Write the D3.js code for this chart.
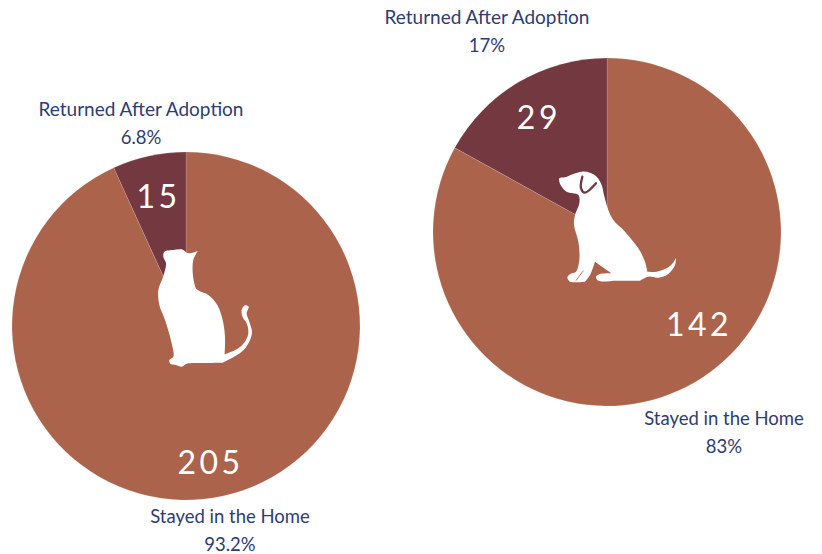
<!DOCTYPE html>
<html>
<head>
<meta charset="utf-8">
<script src="https://cdn.jsdelivr.net/npm/d3@7"></script>
<style>
html, body { margin: 0; padding: 0; background: #fff; }
svg { display: block; }
text { font-family: Lato, sans-serif; }
</style>
</head>
<body>
<div id="chart"></div>
<script>
var categories = ['Stayed in the Home', 'Returned After Adoption'];
var catValues = [205, 15];
var dogValues = [142, 29];
var catPercents = ['93.2%', '6.8%'];
var dogPercents = ['83%', '17%'];

var colors = ['#ab644b', '#733840'];
var textColor = '#2e3c70';

var outerWidth = 822;
var outerHeight = 554;
var radius = 174;

var svg = d3.select('#chart').append('svg')
    .attr('width', outerWidth)
    .attr('height', outerHeight);

var pie = d3.pie().sort(null);
var arc = d3.arc().innerRadius(0).outerRadius(radius);
var labelArc = d3.arc().innerRadius(134).outerRadius(134);

var drawPie = function (values, percents, conf) {
    var g = svg.append('g')
        .attr('transform', 'translate(' + conf.cx + ',' + conf.cy + ')');

    var slices = pie(values);

    g.selectAll('path.slice')
        .data(slices)
        .enter()
        .append('path')
        .attr('class', 'slice')
        .attr('d', arc)
        .attr('fill', function (d, i) { return colors[i]; })
        .attr('stroke', '#fff')
        .attr('stroke-opacity', 0.25)
        .attr('stroke-width', 0.6);

    // big counts inside the slices
    g.selectAll('text.count')
        .data(slices)
        .enter()
        .append('text')
        .attr('class', 'count')
        .attr('transform', function (d, i) {
            var c = labelArc.centroid(d);
            return 'translate(' + (c[0] + conf.nudge[i][0]) + ',' + (c[1] + conf.nudge[i][1]) + ')';
        })
        .attr('text-anchor', 'middle')
        .attr('dy', '0.36em')
        .attr('fill', '#fff')
        .style('font-size', '32px')
        .style('letter-spacing', '3.5px')
        .text(function (d) { return d.data; });

    // category name + percent outside
    categories.forEach(function (name, i) {
        var t = svg.append('text')
            .attr('text-anchor', 'middle')
            .attr('fill', textColor);
        t.append('tspan')
            .attr('x', conf.labels[i][0])
            .attr('y', conf.labels[i][1])
            .style('font-size', i === 1 ? '19px' : '18.5px')
            .text(name);
        t.append('tspan')
            .attr('x', conf.labels[i][0])
            .attr('y', conf.labels[i][1] + 28)
            .style('font-size', '18.5px')
            .text(percents[i]);
    });
};

drawPie(catValues, catPercents, {
    cx: 186, cy: 326,
    nudge: [[-4, 6], [1, 1]],
    labels: [[230, 523], [141, 116]]
});
drawPie(dogValues, dogPercents, {
    cx: 607, cy: 232,
    nudge: [[24, -23], [0, 1]],
    labels: [[724, 425], [487, 24]]
});

// animal silhouettes, traced by hand (doubled points keep the corners sharp)
var catShape = [[103,65],[130,60],[155,58],[175,70],[203,63],[203,63],[190,90],[188,125],[193,160],[200,178],[235,195],[262,225],[278,270],[285,320],[284,373],[284,373],[320,358],[345,335],[355,310],[350,280],[338,262],[335,240],[345,226],[356,230],[350,250],[358,275],[366,305],[358,335],[335,365],[278,398],[278,398],[220,399],[170,401],[155,410],[138,405],[122,402],[118,390],[130,380],[125,340],[105,270],[88,225],[85,180],[100,138],[108,100],[100,80]];
var dogShape = [[28,55],[45,52],[70,42],[95,35],[120,38],[140,50],[155,75],[162,105],[175,150],[190,180],[225,215],[265,265],[285,305],[292,335],[292,335],[320,335],[350,325],[368,310],[378,293],[378,293],[375,315],[355,342],[325,353],[295,350],[270,362],[270,362],[200,362],[145,362],[138,350],[150,342],[185,340],[185,340],[135,305],[135,305],[120,345],[105,365],[105,365],[60,365],[52,352],[65,340],[78,335],[88,300],[85,245],[72,195],[75,165],[88,130],[85,105],[50,95],[35,80],[28,65]];
var dogEar = [[97,50],[93,85],[105,98],[138,70]];
var dogPaw = [[78,362],[100,332]];

var outline = d3.line().curve(d3.curveCatmullRomClosed.alpha(0.5));
var open = d3.line().curve(d3.curveCatmullRom.alpha(0.5));

svg.append('path')
    .attr('transform', 'translate(130,230) scale(0.3333)')
    .attr('d', outline(catShape))
    .attr('fill', '#fff');

var dog = svg.append('g')
    .attr('transform', 'translate(550,160) scale(0.3333)');
dog.append('path')
    .attr('d', outline(dogShape))
    .attr('fill', '#fff');
dog.append('path')
    .attr('d', open(dogEar))
    .attr('fill', 'none')
    .attr('stroke', '#733840')
    .attr('stroke-width', 7)
    .attr('stroke-linecap', 'round');
dog.append('path')
    .attr('d', open(dogPaw))
    .attr('fill', 'none')
    .attr('stroke', '#ab644b')
    .attr('stroke-width', 2.5);
</script>
</body>
</html>
